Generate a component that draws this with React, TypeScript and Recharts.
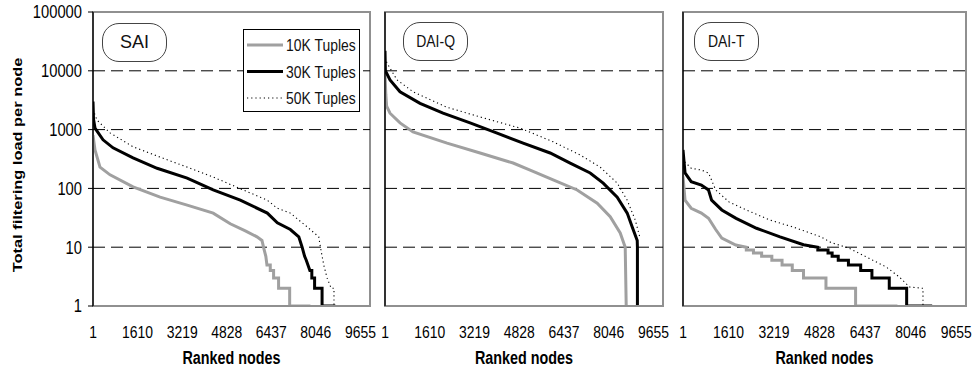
import React from 'react';
import { LineChart, Line, XAxis, YAxis, ReferenceLine, ReferenceArea, Legend } from 'recharts';

type Pt = [number, number];

// Ranked-node positions shown on the x axis and the log-scale load ticks
const X_TICKS = [1, 1610, 3219, 4828, 6437, 8046, 9655];
const Y_TICKS = [1, 10, 100, 1000, 10000, 100000];
const GRID_LINES = [10, 100, 1000, 10000];

// SAI: filtering load per ranked node
const SAI_10K: Pt[] = [
  [1, 800], [73, 450], [254, 230], [616, 170], [1447, 106], [2424, 71], [3400, 52],
  [4340, 38], [4955, 25], [5500, 19], [5920, 15], [6100, 13], [6180, 9], [6240, 7],
  [6280, 5], [6400, 5], [6400, 4], [6520, 4], [6520, 3], [6700, 3], [6700, 2],
  [7100, 2], [7100, 1], [7850, 1],
];
const SAI_30K: Pt[] = [
  [1, 3000], [20, 1500], [73, 1060], [363, 670], [724, 490], [1447, 330], [2315, 220],
  [3400, 150], [4340, 94], [5317, 63], [6293, 38], [6655, 26], [7125, 20], [7430, 15],
  [7550, 10], [7640, 7], [7700, 6], [7760, 5], [7830, 4], [7900, 4], [7900, 3],
  [8000, 3], [8000, 2], [8270, 2], [8270, 1], [8750, 1],
];
const SAI_50K: Pt[] = [
  [1, 2200], [146, 1450], [616, 880], [1447, 510], [2424, 340], [3400, 230], [4340, 156],
  [5425, 94], [6293, 63], [6654, 46], [7125, 38], [7740, 22], [8150, 15], [8210, 10],
  [8330, 5], [8450, 3], [8600, 2], [8700, 2], [8700, 1], [8800, 1],
];

// DAI-Q
const DAIQ_10K: Pt[] = [
  [1, 9000], [30, 4000], [60, 2500], [181, 1900], [541, 1300], [1009, 910], [2233, 590],
  [3421, 400], [4609, 270], [5221, 205], [6049, 140], [6913, 94], [7633, 56], [8101, 33],
  [8461, 17.5], [8641, 10], [8677, 1],
];
const DAIQ_30K: Pt[] = [
  [1, 22000], [15, 10000], [181, 7000], [541, 4400], [1261, 2800], [2089, 1900],
  [3061, 1300], [4033, 870], [4969, 590], [5941, 400], [6661, 270], [7381, 183],
  [7849, 123], [8353, 71], [8713, 38], [8893, 22], [9073, 13], [9080, 10], [9080, 1],
];
const DAIQ_50K: Pt[] = [
  [1, 16600], [73, 13500], [433, 7000], [1009, 4400], [2233, 2400], [3421, 1640],
  [4861, 1060], [6049, 620], [7021, 370], [7741, 230], [8353, 123], [8713, 63],
  [9001, 29], [9181, 14],
];

// DAI-T
const DAIT_10K: Pt[] = [
  [1, 160], [73, 63], [290, 46], [650, 38], [903, 31], [1156, 20], [1372, 14.3],
  [1866, 10.9], [2238, 10], [2238, 9], [2490, 9], [2490, 8], [2779, 8], [2779, 7],
  [3140, 7], [3140, 6], [3501, 6], [3501, 5], [3862, 5], [3862, 4], [4259, 4],
  [4259, 3], [5052, 3], [5052, 2], [6099, 2], [6099, 1], [7578, 1],
];
const DAIT_30K: Pt[] = [
  [1, 450], [73, 183], [290, 130], [650, 114], [903, 94], [1011, 63], [1372, 43],
  [1877, 31], [2599, 21], [3429, 15], [4259, 11], [4764, 10], [4764, 9], [5125, 9],
  [5125, 8], [5270, 8], [5270, 7], [5486, 7], [5486, 6], [5846, 6], [5846, 5],
  [6279, 5], [6279, 4], [6676, 4], [6676, 3], [7289, 3], [7289, 2], [7903, 2],
  [7903, 1], [8805, 1],
];
const DAIT_50K: Pt[] = [
  [1, 330], [73, 280], [290, 220], [650, 205], [903, 183], [1156, 94], [1625, 59],
  [2238, 43], [3068, 29], [3897, 22], [4872, 15], [5233, 12], [5846, 9.7], [6568, 6.5],
  [7181, 4.6], [7650, 3.1], [8010, 2.1], [8480, 2], [8480, 1], [8913, 1],
];

const SERIES_NAMES = ['10K Tuples', '30K Tuples', '50K Tuples'];

const FONT = "'Liberation Sans', Arial, sans-serif";
// horizontal squeeze applied to text, giving a condensed face
const SQ = 0.82;

const STYLES = [
  { stroke: '#a0a0a0', strokeWidth: 3, dash: undefined as string | undefined },
  { stroke: '#000000', strokeWidth: 3, dash: undefined as string | undefined },
  { stroke: '#000000', strokeWidth: 1.1, dash: '1.2 3' },
];

const toRows = (pts: Pt[]) => pts.map(([node, load]) => ({ node, load }));

function XTick(props: any) {
  const { x, y, payload } = props;
  return (
    <g transform={`translate(${x},${y}) scale(${SQ},1)`}>
      <text x={0} y={0} dy="0.71em" textAnchor="middle" fontSize={17} fontFamily={FONT} fill="#000">
        {payload.value}
      </text>
    </g>
  );
}

function YTick(props: any) {
  const { x, y, payload } = props;
  return (
    <g transform={`translate(${x},${y}) scale(${SQ},1)`}>
      <text x={0} y={0} dy="0.36em" textAnchor="end" fontSize={18} fontFamily={FONT} fill="#000">
        {payload.value}
      </text>
    </g>
  );
}

function XTitle(props: any) {
  const vb = props.viewBox || { x: 0, y: 306, width: 277, height: 66 };
  const cx = vb.x + vb.width / 2;
  const by = vb.y + vb.height - 8;
  return (
    <g transform={`translate(${cx},${by}) scale(${SQ},1)`}>
      <text x={0} y={0} textAnchor="middle" fontSize={17.5} fontWeight="bold" fontFamily={FONT} fill="#000">
        Ranked nodes
      </text>
    </g>
  );
}

function YTitle(props: any) {
  const vb = props.viewBox || { x: 0, y: 12, width: 93, height: 294 };
  const cx = 22;
  const cy = vb.y + vb.height / 2 + 6;
  return (
    <g transform={`translate(${cx},${cy}) scale(${SQ},1) rotate(-90)`}>
      <text x={0} y={0} textAnchor="middle" fontSize={16.4} fontWeight="bold" fontFamily={FONT} fill="#000">
        Total filtering load per node
      </text>
    </g>
  );
}

function LegendBox() {
  return (
    <svg width={117} height={83} style={{ display: 'block' }}>
      <rect x={0.5} y={0.5} width={116} height={82} fill="#fff" stroke="#000" strokeWidth={1} />
      {SERIES_NAMES.map((name, i) => {
        const y = 16 + i * 26.5;
        const s = STYLES[i];
        return (
          <g key={name}>
            <line x1={4} x2={40} y1={y} y2={y} stroke={s.stroke} strokeWidth={s.strokeWidth} strokeDasharray={s.dash} />
            <g transform={`translate(43,${y + 6}) scale(${SQ},1)`}>
              <text x={0} y={0} fontSize={17} fontFamily={FONT} fill="#111">{name}</text>
            </g>
          </g>
        );
      })}
    </svg>
  );
}

type PanelProps = {
  left: number;
  width: number;
  yAxisWidth: number;
  rightMargin: number;
  first: boolean;
  series: Pt[][];
};

function Panel({ left, width, yAxisWidth, rightMargin, first, series }: PanelProps) {
  return (
    <div style={{ position: 'absolute', left, top: 0, width, height: 372 }}>
      <LineChart width={width} height={372} margin={{ top: 12, right: rightMargin, bottom: 0, left: 0 }}>
        <ReferenceArea
          x1={1}
          x2={10000}
          y1={1}
          y2={100000}
          fill="none"
          fillOpacity={0}
          stroke="#909090"
          strokeWidth={2}
          ifOverflow="visible"
        />
        {GRID_LINES.map((v) => (
          <ReferenceLine key={v} y={v} stroke="#000" strokeWidth={1} strokeDasharray="12 6" />
        ))}
        <XAxis
          type="number"
          dataKey="node"
          domain={[1, 10000]}
          ticks={X_TICKS}
          interval={0}
          allowDataOverflow
          tickLine={false}
          axisLine={{ stroke: '#909090', strokeWidth: 2 }}
          height={66}
          tickSize={6}
          tickMargin={14}
          tick={<XTick />}
          label={<XTitle />}
        />
        <YAxis
          type="number"
          scale="log"
          domain={[1, 100000]}
          ticks={Y_TICKS}
          interval={0}
          allowDataOverflow
          width={yAxisWidth}
          tickSize={5}
          tickMargin={6}
          axisLine={{ stroke: '#000', strokeWidth: 1.3 }}
          tickLine={{ stroke: '#000' }}
          tick={first ? <YTick /> : false}
          label={first ? <YTitle /> : undefined}
        />
        {first && (
          <Legend
            layout="horizontal"
            align="center"
            verticalAlign="middle"
            content={() => <LegendBox />}
            wrapperStyle={{ left: 243, top: 29, width: 117, height: 83 }}
          />
        )}
        {series.map((pts, i) => (
          <Line
            key={SERIES_NAMES[i]}
            name={SERIES_NAMES[i]}
            data={toRows(pts)}
            dataKey="load"
            type="linear"
            stroke={STYLES[i].stroke}
            strokeWidth={STYLES[i].strokeWidth}
            strokeDasharray={STYLES[i].dash}
            dot={false}
            activeDot={false}
            isAnimationActive={false}
          />
        ))}
      </LineChart>
    </div>
  );
}

function Tag({ left, top, text, size, squeeze }: { left: number; top: number; text: string; size: number; squeeze: number }) {
  return (
    <div
      style={{
        position: 'absolute',
        left,
        top,
        width: 65,
        height: 39,
        boxSizing: 'border-box',
        border: '1px solid #444',
        borderRadius: 17,
        background: '#fff',
        fontFamily: FONT,
        fontSize: size,
        color: '#111',
        display: 'flex',
        alignItems: 'center',
        justifyContent: 'center',
      }}
    >
      <span style={{ display: 'inline-block', transform: `scaleX(${squeeze})` }}>{text}</span>
    </div>
  );
}

export default function App() {
  return (
    <div style={{ position: 'absolute', left: 0, top: 0, width: 975, height: 372, background: '#fff', overflow: 'hidden' }}>
      <Panel left={0} width={380} yAxisWidth={93} rightMargin={10} first series={[SAI_10K, SAI_30K, SAI_50K]} />
      <Panel left={370} width={303} yAxisWidth={15} rightMargin={10} first={false} series={[DAIQ_10K, DAIQ_30K, DAIQ_50K]} />
      <Panel left={668} width={307} yAxisWidth={15} rightMargin={9} first={false} series={[DAIT_10K, DAIT_30K, DAIT_50K]} />
      <Tag left={102} top={23} text="SAI" size={18} squeeze={1} />
      <Tag left={403} top={22} text="DAI-Q" size={17} squeeze={SQ} />
      <Tag left={694} top={22} text="DAI-T" size={17} squeeze={SQ} />
    </div>
  );
}
